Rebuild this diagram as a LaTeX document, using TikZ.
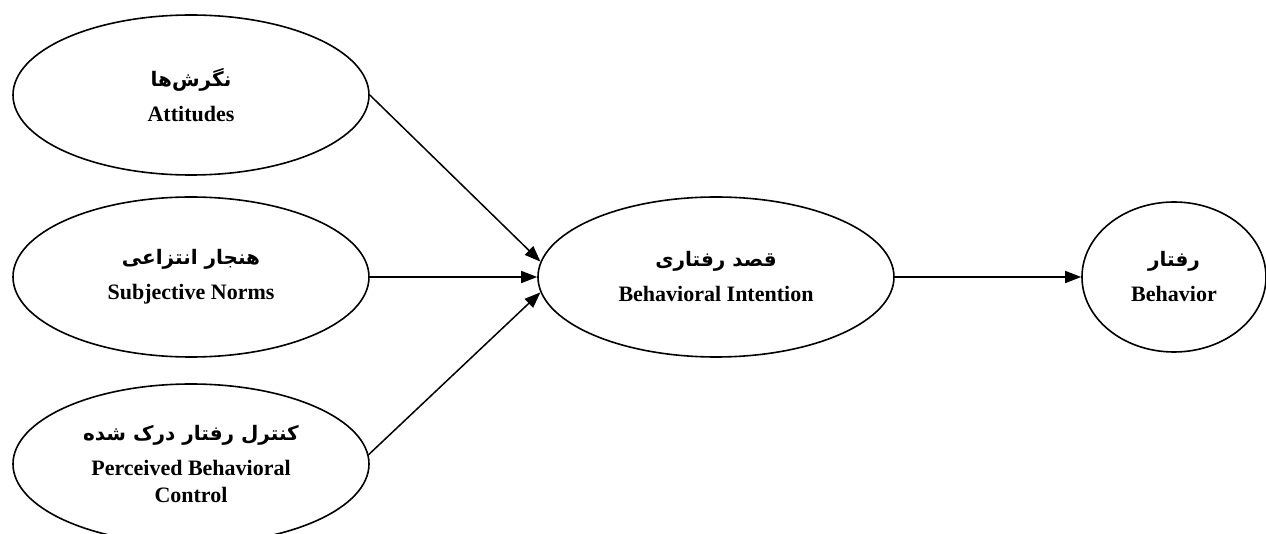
\documentclass[tikz,border=0pt]{standalone}
\usepackage{fontspec}
\setmainfont{Liberation Serif}
\newfontfamily\persianfont[Script=Arabic]{DejaVu Sans}
\TeXXeTstate=1
\usetikzlibrary{shapes.geometric,arrows.meta}
\newcommand{\fa}[1]{{\persianfont\bfseries\fontsize{10}{14}\selectfont\beginR #1\endR}}

\begin{document}
\begin{tikzpicture}[x=0.5pt, y=-0.5pt]
            \tikzstyle{construct}=[ellipse,draw,line width=0.8pt,minimum width=178pt,minimum height=80pt,inner sep=0pt,align=center,font=\bfseries\fontsize{11}{13.5}\selectfont]
            \tikzstyle{link}=[line width=0.75pt,-{Triangle[length=8pt,width=6pt]}]
            \clip (0,0) rectangle (1266,534);

            \node[construct] (T_1) at (191,95)  {\fa{نگرش‌ها}\\[4pt] Attitudes};
            \node[construct] (T_2) at (191,277) {\fa{هنجار انتزاعی}\\[4pt] Subjective Norms};
            \node[construct] (T_3) at (191,464) {\fa{کنترل رفتار درک شده}\\[4pt] Perceived Behavioral\\ Control};
            \node[construct] (T_4) at (716,277) {\fa{قصد رفتاری}\\[4pt] Behavioral Intention};
            \node[construct,minimum width=92pt,minimum height=75pt] (T_5) at (1174,277) {\fa{رفتار}\\[4pt] Behavior};

            \draw[link] (T_1.east) -- (T_4.175);
            \draw[link] (T_2) -- (T_4);
            \draw[link] (T_3.3) -- (T_4.185);
            \draw[link] (T_4) -- (T_5);
        \end{tikzpicture}
\end{document}
